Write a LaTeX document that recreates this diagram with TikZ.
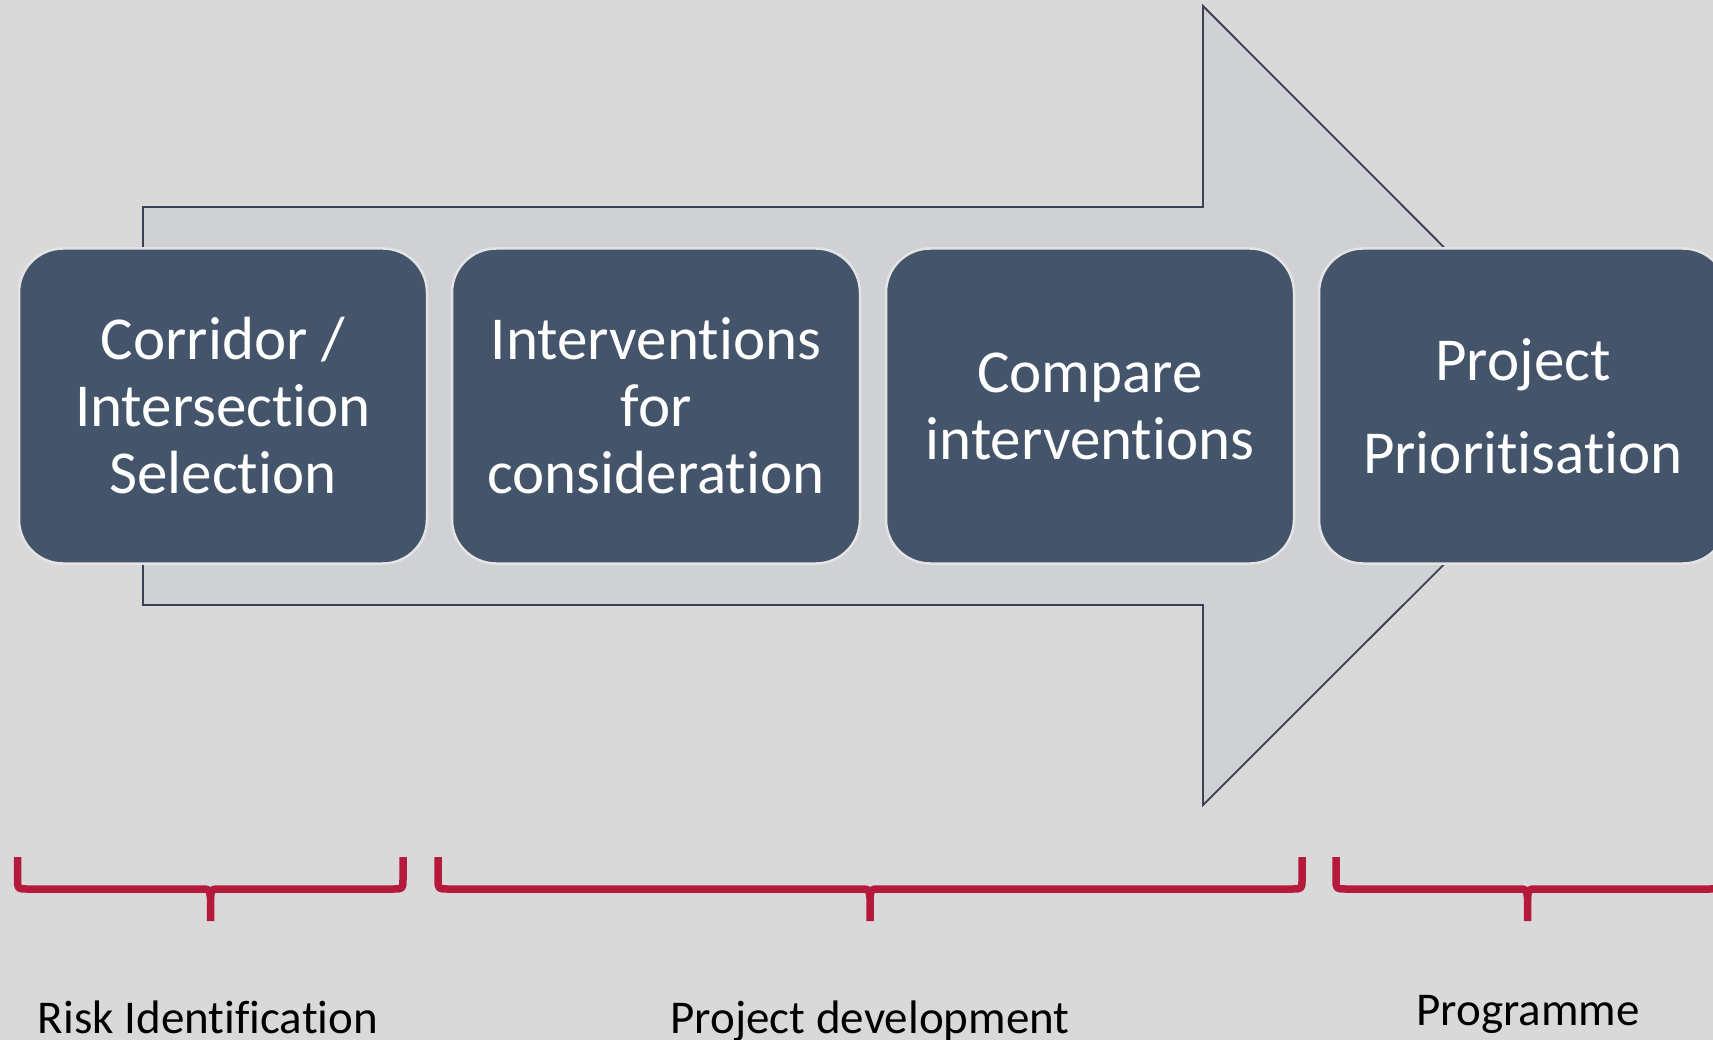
\documentclass[tikz,border=0pt]{standalone}
\usepackage{fontspec}
\setmainfont{Carlito}[Ligatures={NoCommon}]
\usepackage{tikz}
\definecolor{slide}{HTML}{D9D9D9}
\definecolor{shaft}{HTML}{D0D1D5}
\definecolor{shaftline}{HTML}{3C4054}
\definecolor{stageblue}{HTML}{44546A}
\definecolor{stageline}{HTML}{E4E4E4}
\definecolor{bracketred}{HTML}{B5193C}
\tikzset{
  stage/.style = {rectangle, rounded corners=44pt, fill=stageblue, draw=stageline, line width=2.5pt,
    minimum width=408pt, minimum height=315pt, text=white, align=center,
    font=\fontsize{61}{67}\selectfont},
  phase/.style = {anchor=base, font=\fontsize{47}{56}\selectfont},
  bracket/.style = {draw=bracketred, line width=7.5pt, line join=round},
  flow/.style = {fill=shaft, draw=shaftline, line width=1.8pt}
}
% brace under the stages: left end, right end, middle
\newcommand{\phasebrace}[3]{
  \draw[bracket] (#1,857) -- (#1,879) .. controls (#1,889) .. (#1+10,889) -- (#3-9,889)
    .. controls (#3-1,889) .. (#3,898) -- (#3,921);
  \draw[bracket] (#2,857) -- (#2,879) .. controls (#2,889) .. (#2-10,889) -- (#3+9,889)
    .. controls (#3+1,889) .. (#3,898);
}

\begin{document}
\begin{tikzpicture}[x=1pt, y=-1pt]
\useasboundingbox (0,0) rectangle (1713,1040);
\clip (0,0) rectangle (1713,1040);
\fill[slide] (0,0) rectangle (1713,1040);
% ARROW
\draw[flow] (143,207) -- (1203,207) -- (1203,6) -- (1602.5,406) -- (1203,805)
  -- (1203,605) -- (143,605) -- cycle;
% STAGES
\node[stage] (s1) at (223,406) {Corridor /\\Intersection\\Selection};
\node[stage] (s2) at (656,406) {Interventions\\for\\consideration};
\node[stage] (s3) at (1090,406) {Compare\\interventions};
\node[stage, font=\fontsize{61}{93}\selectfont] (s4) at (1523,406) {Project\\Prioritisation};
% BRACES
\phasebrace{17.5}{403}{210.5}
\phasebrace{438}{1302}{870}
\phasebrace{1336}{1719}{1527.5}
% PHASES
\node[phase] (ph1) at (208,1033) {Risk Identification};
\node[phase] (ph2) at (870,1033) {Project development};
\node[phase] (ph3) at (1528,1025) {Programme};
\end{tikzpicture}
\end{document}
